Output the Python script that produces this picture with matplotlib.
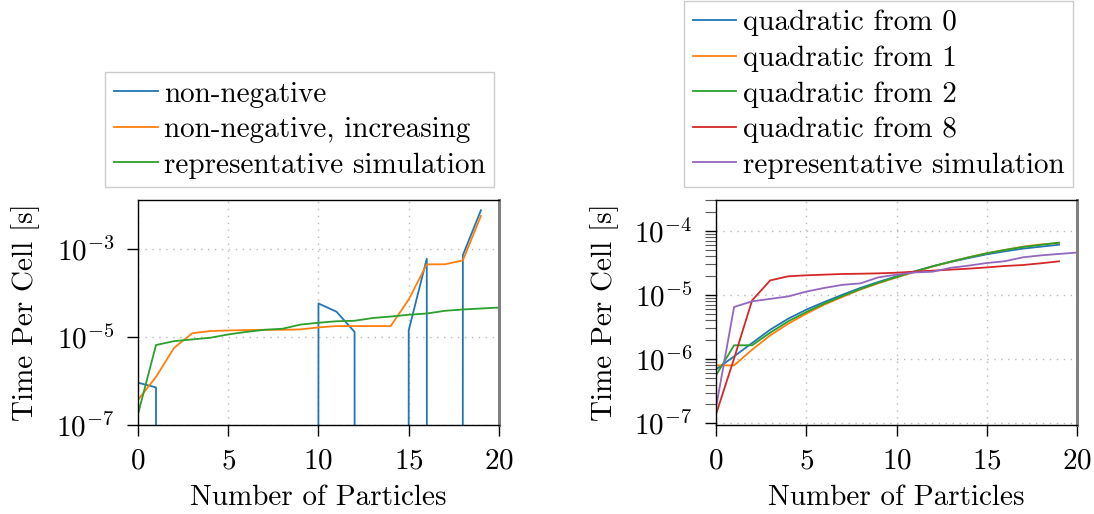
import matplotlib
matplotlib.use("Agg")
import matplotlib.pyplot as plt
from matplotlib.ticker import FixedLocator, NullLocator, LogLocator, NullFormatter

plt.rcParams.update({
    "font.family": "serif",
    "font.serif": ["cmr10", "DejaVu Serif"],
    "mathtext.fontset": "cm",
    "axes.formatter.use_mathtext": True,
    "font.size": 21,
    "axes.unicode_minus": False,
})

# ---- data ----
particles_a = list(range(20))
particles_rep = list(range(21))
particles_q = list(range(20))

non_negative = [9.1e-7, 7.1e-7, 0, 0, 0, 0, 0, 0, 0, 0,
                5.7e-5, 3.7e-5, 1.29e-5, 0, 0, 1.4e-5, 5.9e-4, 0, 7.1e-4, 7.4e-3]
non_negative_increasing = [3.7e-7, 1.23e-6, 5.6e-6, 1.2e-5, 1.35e-5, 1.39e-5, 1.42e-5,
                           1.44e-5, 1.44e-5, 1.47e-5, 1.63e-5, 1.75e-5, 1.75e-5, 1.75e-5,
                           1.75e-5, 7.0e-5, 4.4e-4, 4.4e-4, 5.4e-4, 5.5e-3]
representative = [1.75e-7, 6.5e-6, 7.97e-6, 8.7e-6, 9.5e-6, 1.13e-5, 1.29e-5, 1.44e-5,
                  1.52e-5, 1.89e-5, 2.08e-5, 2.25e-5, 2.31e-5, 2.66e-5, 2.88e-5, 3.16e-5,
                  3.37e-5, 3.88e-5, 4.16e-5, 4.38e-5, 4.6e-5]

quad_from_0 = [6.9e-7, 1.10e-6, 1.78e-6, 2.87e-6, 4.27e-6, 5.9e-6, 7.78e-6, 1.01e-5,
               1.29e-5, 1.60e-5, 1.96e-5, 2.34e-5, 2.81e-5, 3.28e-5, 3.78e-5, 4.32e-5,
               4.81e-5, 5.30e-5, 5.69e-5, 6.11e-5]
quad_from_1 = [7.96e-7, 7.96e-7, 1.40e-6, 2.34e-6, 3.56e-6, 5.1e-6, 7.08e-6, 9.33e-6,
               1.22e-5, 1.53e-5, 1.88e-5, 2.29e-5, 2.79e-5, 3.31e-5, 3.89e-5, 4.49e-5,
               5.07e-5, 5.69e-5, 6.17e-5, 6.49e-5]
quad_from_2 = [5.56e-7, 1.64e-6, 1.64e-6, 2.58e-6, 3.88e-6, 5.42e-6, 7.33e-6, 9.64e-6,
               1.24e-5, 1.56e-5, 1.91e-5, 2.32e-5, 2.81e-5, 3.32e-5, 3.88e-5, 4.48e-5,
               5.05e-5, 5.62e-5, 6.07e-5, 6.58e-5]
quad_from_8 = [1.37e-7, 1.02e-6, 8.26e-6, 1.69e-5, 1.96e-5, 2.03e-5, 2.08e-5, 2.13e-5,
               2.15e-5, 2.18e-5, 2.23e-5, 2.32e-5, 2.40e-5, 2.49e-5, 2.58e-5, 2.70e-5,
               2.84e-5, 2.94e-5, 3.13e-5, 3.36e-5]

labels_left = ["non-negative", "non-negative, increasing", "representative simulation"]
labels_right = ["quadratic from 0", "quadratic from 1", "quadratic from 2",
                "quadratic from 8", "representative simulation"]
colors = ["#1f77b4", "#ff7f0e", "#2ca02c", "#d62728", "#9467bd"]

fig = plt.figure(figsize=(10.94, 5.14), dpi=100)
axL = fig.add_axes([0.1261, 0.1732, 0.330, 0.4377])
axR = fig.add_axes([0.6545, 0.1732, 0.330, 0.4377])

lw = 1.3
axL.plot(particles_a, non_negative, color=colors[0], lw=lw, label=labels_left[0])
axL.plot(particles_a, non_negative_increasing, color=colors[1], lw=lw, label=labels_left[1])
axL.plot(particles_rep, representative, color=colors[2], lw=lw, label=labels_left[2])

axR.plot(particles_q, quad_from_0, color=colors[0], lw=lw, label=labels_right[0])
axR.plot(particles_q, quad_from_1, color=colors[1], lw=lw, label=labels_right[1])
axR.plot(particles_q, quad_from_2, color=colors[2], lw=lw, label=labels_right[2])
axR.plot(particles_q, quad_from_8, color=colors[3], lw=lw, label=labels_right[3])
axR.plot(particles_rep, representative, color=colors[4], lw=lw, label=labels_right[4])

for ax in (axL, axR):
    ax.set_yscale("log", nonpositive="clip")
    ax.set_xlim(0, 20)
    ax.set_xticks([0, 5, 10, 15, 20])
    ax.grid(True, which="major", linestyle=(0, (1, 4)), color="0.72", linewidth=1.0)
    ax.tick_params(axis="both", which="major", direction="out", length=8, width=1.0, pad=9)
    ax.tick_params(axis="x", which="major", pad=9)
    ax.tick_params(axis="y", which="minor", direction="out", length=8, width=0.8, color="0.35")
    ax.tick_params(axis="x", which="minor", bottom=False)
    ax.set_xlabel("Number of Particles", labelpad=7)
    ax.set_ylabel("Time Per Cell [s]")
    ax.yaxis.set_label_coords(-0.27, 0.5)
    for s in ("left", "bottom", "top"):
        ax.spines[s].set_linewidth(1.0)
        ax.spines[s].set_color("black")
    ax.spines["right"].set_color("0.5")
    ax.spines["right"].set_linewidth(2.2)

axL.set_ylim(1e-7, 10 ** -1.898)
axL.yaxis.set_major_locator(FixedLocator([1e-7, 1e-5, 1e-3]))
axL.yaxis.set_minor_locator(NullLocator())

axR.set_ylim(10 ** -7.03, 10 ** -3.516)
axR.yaxis.set_major_locator(LogLocator(base=10, numticks=10))
axR.yaxis.set_minor_locator(LogLocator(base=10, subs=range(2, 10), numticks=20))
axR.yaxis.set_minor_formatter(NullFormatter())

leg_kw = dict(loc="lower left", bbox_transform=fig.transFigure, frameon=True,
              fancybox=False, edgecolor="0.8", framealpha=1.0, handlelength=1.5,
              handletextpad=0.22, labelspacing=0.31, borderpad=0.3, borderaxespad=0.0,
              fontsize=21)
legL = axL.legend(bbox_to_anchor=(0.096, 0.6356), **leg_kw)
legR = axR.legend(bbox_to_anchor=(0.6252, 0.6356), **leg_kw)
for leg in (legL, legR):
    leg.get_frame().set_linewidth(1.0)
    for h in leg.get_lines():
        h.set_linewidth(1.3)

fig.savefig("out.png", dpi=100)
